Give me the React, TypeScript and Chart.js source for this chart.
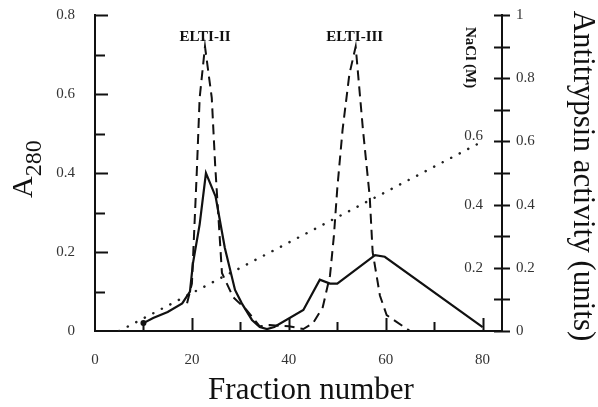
import React, { useEffect, useRef } from "react";
import { Chart, registerables } from "chart.js";

Chart.register(...registerables);

// ---- data ----
// solid trace (A280)
const solidX = [10, 12, 15, 18, 19.6, 20.2, 21.6, 22.9, 24.9, 26.8, 28.9, 30.3, 32.4, 34, 35.5, 37, 43, 46.4, 48.5, 50, 57.8, 59.8, 80];
const solidY = [0.02, 0.033, 0.048, 0.07, 0.1, 0.17, 0.27, 0.4, 0.34, 0.21, 0.104, 0.07, 0.028, 0.01, 0.005, 0.01, 0.053, 0.13, 0.12, 0.12, 0.192, 0.188, 0.01];
// dashed trace (antitrypsin activity)
const dashedX = [19, 20, 21, 21.6, 22.7, 24.1, 24.8, 26.2, 28.5, 31.3, 34, 36, 40, 43, 45, 47, 48.5, 49.3, 50, 51.1, 52.5, 53.8, 55.3, 56.7, 57.3, 58.8, 60.2, 62, 65];
const dashedY = [0.07, 0.12, 0.4, 0.59, 0.72, 0.59, 0.42, 0.147, 0.086, 0.053, 0.012, 0.015, 0.012, 0.005, 0.02, 0.06, 0.14, 0.24, 0.36, 0.51, 0.65, 0.72, 0.51, 0.34, 0.2, 0.09, 0.04, 0.025, 0];
// dotted trace (NaCl gradient, right axis)
const saltX = [5, 80];
const saltY = [0, 0.6];

// axes
const xTickLabels = [0, 20, 40, 60, 80];
const xTickMarks = [10, 20, 30, 40, 50, 60, 70, 80];
const yTickLabels = [0, 0.2, 0.4, 0.6, 0.8];
const yTickMarks = [0.1, 0.2, 0.3, 0.4, 0.5, 0.6, 0.7, 0.8];
const y2TickLabels = [0, 0.2, 0.4, 0.6, 0.8, 1];
const y2TickMarks = [0, 0.1, 0.2, 0.3, 0.4, 0.5, 0.6, 0.7, 0.8, 0.9, 1];
const y2InnerLabels = [0.2, 0.4, 0.6];

// peak annotations
const peakNames = ["ELTI-II", "ELTI-III"];
const peakNameX = [22.7, 53.6];
const peakNameY = [0.745, 0.745];

const INK = "#111";
const SERIF = "'Liberation Serif', 'Times New Roman', serif";

const fmt = (v: number) => (v === 0 ? "0" : v === 1 ? "1" : v.toFixed(1));

const decor = {
  id: "decor",
  afterDraw(chart: any) {
    const { ctx } = chart;
    const x = chart.scales.x;
    const y = chart.scales.y;
    const y2 = chart.scales.y2;
    const left = x.left;
    const right = x.right;
    const bottom = y.bottom;
    ctx.save();
    ctx.strokeStyle = INK;
    ctx.fillStyle = INK;
    ctx.lineWidth = 2;
    ctx.beginPath();
    // left axis inward ticks
    for (const v of yTickMarks) {
      const py = Math.round(y.getPixelForValue(v)) + 0.5;
      const major = Math.round(v * 10) % 2 === 0;
      ctx.moveTo(left, py);
      ctx.lineTo(left + (major ? 13 : 10), py);
    }
    // x axis upward ticks
    for (const v of xTickMarks) {
      const px = Math.round(x.getPixelForValue(v)) + 0.5;
      const major = v % 20 === 0;
      ctx.moveTo(px, bottom);
      ctx.lineTo(px, bottom - (major ? 13 : 9));
    }
    // right axis crossing ticks
    for (const v of y2TickMarks) {
      const py = Math.round(y2.getPixelForValue(v)) + 0.5;
      ctx.moveTo(right - 8, py);
      ctx.lineTo(right + 8, py);
    }
    ctx.stroke();

    // inner labels on right axis
    ctx.font = `15px ${SERIF}`;
    ctx.fillStyle = "#333";
    ctx.textAlign = "right";
    ctx.textBaseline = "middle";
    for (const v of y2InnerLabels) {
      const py = y2.getPixelForValue(v) - (v === 0.6 ? 5 : 0);
      ctx.fillText(fmt(v), right - 19, py);
    }

    // peak names
    ctx.fillStyle = INK;
    ctx.font = `bold 15px ${SERIF}`;
    ctx.textAlign = "center";
    for (let i = 0; i < peakNames.length; i++) {
      ctx.fillText(peakNames[i], x.getPixelForValue(peakNameX[i]), y.getPixelForValue(peakNameY[i]));
    }

    // NaCl (M) rotated
    ctx.save();
    ctx.translate(466, 27);
    ctx.rotate(Math.PI / 2);
    ctx.textAlign = "left";
    ctx.textBaseline = "alphabetic";
    ctx.font = `bold 15px ${SERIF}`;
    ctx.fillText("NaCl (M)", 0, 0);
    ctx.restore();

    // x title
    ctx.font = `31px ${SERIF}`;
    ctx.textAlign = "center";
    ctx.textBaseline = "alphabetic";
    ctx.fillText("Fraction number", 311, 399);

    // left title A280
    ctx.save();
    ctx.translate(32, 198);
    ctx.rotate(-Math.PI / 2);
    ctx.textAlign = "left";
    ctx.textBaseline = "alphabetic";
    ctx.font = `30px ${SERIF}`;
    ctx.fillText("A", 0, 0);
    const aw = ctx.measureText("A").width;
    ctx.font = `24px ${SERIF}`;
    ctx.fillText("280", aw, 9);
    ctx.restore();

    // right title
    ctx.save();
    ctx.translate(574, 176);
    ctx.rotate(Math.PI / 2);
    ctx.textAlign = "center";
    ctx.textBaseline = "alphabetic";
    ctx.font = `31px ${SERIF}`;
    ctx.fillText("Antitrypsin activity (units)", 0, 0);
    ctx.restore();

    ctx.restore();
  },
};

export default function App() {
  const ref = useRef<HTMLCanvasElement | null>(null);

  useEffect(() => {
    if (!ref.current) return;
    const solid = solidX.map((v, i) => ({ x: v, y: solidY[i] }));
    const dashed = dashedX.map((v, i) => ({ x: v, y: dashedY[i] }));
    const salt = saltX.map((v, i) => ({ x: v, y: saltY[i] }));
    const tickFont = { family: SERIF, size: 15 };
    const fitV = (w: number) => (s: any) => {
      s.width = w;
      s.paddingTop = 0;
      s.paddingBottom = 0;
    };
    const chart = new Chart(ref.current, {
      type: "line",
      data: {
        datasets: [
          {
            label: "A280",
            data: solid,
            yAxisID: "y",
            borderColor: INK,
            backgroundColor: INK,
            borderWidth: 2.2,
            tension: 0,
            pointRadius: (c: any) => (c.dataIndex === 0 ? 3 : 0),
            pointBorderWidth: 0,
          },
          {
            label: "Antitrypsin activity",
            data: dashed,
            yAxisID: "y",
            borderColor: INK,
            borderWidth: 2,
            borderDash: [10, 6],
            tension: 0,
            pointRadius: 0,
          },
          {
            label: "NaCl",
            data: salt,
            yAxisID: "y2",
            borderColor: "#222",
            borderWidth: 2.5,
            borderDash: [0.1, 9.5],
            borderCapStyle: "round",
            tension: 0,
            pointRadius: 0,
          },
        ],
      },
      options: {
        animation: false,
        responsive: true,
        maintainAspectRatio: false,
        layout: { padding: { top: 15, left: 0, right: 0, bottom: 0 } },
        plugins: { legend: { display: false }, tooltip: { enabled: false }, title: { display: false } },
        scales: {
          x: {
            type: "linear",
            min: 0,
            max: 84,
            afterBuildTicks: (s: any) => {
              s.ticks = xTickLabels.map((v) => ({ value: v }));
            },
            afterFit: (s: any) => {
              s.height = 76;
              s.paddingLeft = 0;
              s.paddingRight = 0;
            },
            ticks: { font: tickFont, color: "#333", padding: 20, autoSkip: false, maxRotation: 0, callback: (v: any) => String(v) },
            grid: { display: false, drawTicks: false },
            border: { display: true, color: INK, width: 2 },
          },
          y: {
            type: "linear",
            position: "left",
            min: 0,
            max: 0.8,
            afterBuildTicks: (s: any) => {
              s.ticks = yTickLabels.map((v) => ({ value: v }));
            },
            afterFit: fitV(95),
            ticks: { font: tickFont, color: "#333", padding: 20, callback: (v: any) => fmt(Number(v)) },
            grid: { display: false, drawTicks: false },
            border: { display: true, color: INK, width: 2 },
          },
          y2: {
            type: "linear",
            position: "right",
            min: 0,
            max: 1,
            afterBuildTicks: (s: any) => {
              s.ticks = y2TickLabels.map((v) => ({ value: v }));
            },
            afterFit: fitV(96),
            ticks: { font: tickFont, color: "#333", padding: 14, callback: (v: any) => fmt(Number(v)) },
            grid: { display: false, drawTicks: false },
            border: { display: true, color: INK, width: 2 },
          },
        },
      },
      plugins: [decor],
    } as any);
    return () => chart.destroy();
  }, []);

  return (
    <div style={{ position: "fixed", left: 0, top: 0, width: 598, height: 407, background: "#fff" }}>
      <canvas ref={ref} />
    </div>
  );
}
